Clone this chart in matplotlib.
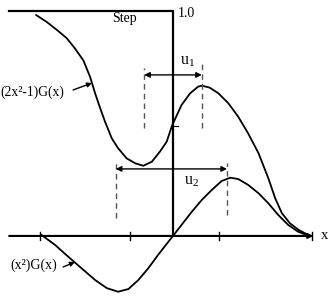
import matplotlib.pyplot as plt

# values (x in units of the tick spacing, y relative to the step height 1.0)
upper_x = [-3.04, -2.81, -2.58, -2.36, -2.18, -1.99, -1.84, -1.73, -1.62, -1.51, -1.36, -1.22,
           -1.03, -0.84, -0.66, -0.47, -0.29, -0.14, -0.02, 0.19, 0.38, 0.56, 0.65, 0.82,
           1.01, 1.23, 1.45, 1.67, 1.90, 2.12, 2.27, 2.42, 2.60, 2.79, 3.01]
upper_y = [0.982, 0.952, 0.916, 0.879, 0.834, 0.780, 0.706, 0.634, 0.569, 0.508, 0.434, 0.390,
           0.345, 0.323, 0.312, 0.330, 0.375, 0.419, 0.491, 0.582, 0.634, 0.664, 0.668, 0.659,
           0.634, 0.590, 0.530, 0.456, 0.368, 0.256, 0.168, 0.101, 0.056, 0.027, 0.004]

lower_x = [-2.92, -2.62, -2.33, -2.03, -1.73, -1.47, -1.22, -0.99, -0.77, -0.55, -0.33, -0.10,
           0.0, 0.19, 0.42, 0.64, 0.86, 1.08, 1.27, 1.45, 1.67, 1.90, 2.12, 2.34, 2.56, 2.78, 3.01]
lower_y = [0.004, -0.040, -0.092, -0.144, -0.196, -0.232, -0.248, -0.236, -0.196, -0.144, -0.084, -0.025,
           0.0, 0.049, 0.108, 0.160, 0.204, 0.244, 0.259, 0.253, 0.227, 0.190, 0.145, 0.093, 0.049, 0.019, 0.001]

step_x = [-3.64, 0.0, 0.0]
step_y = [1.0, 1.0, 0.0]

tick_x = [-2.96, -0.96, 1.02, 3.09]
u1_x = [-0.64, 0.64]
u2_x = [-1.27, 1.20]

plt.rcParams['font.family'] = ['Liberation Serif', 'DejaVu Serif']
plt.rcParams['mathtext.fontset'] = 'custom'
plt.rcParams['mathtext.rm'] = 'Liberation Serif'
plt.rcParams['mathtext.it'] = 'Liberation Serif'

fig = plt.figure(figsize=(3.35, 2.96), dpi=100)
ax = fig.add_axes([0, 0, 1, 1])
ax.set_xlim(-3.844, 3.6)
ax.set_ylim(-0.267, 1.049)
ax.axis('off')

# x axis with arrow
ax.annotate('', xy=(3.12, 0), xytext=(-3.64, 0),
            arrowprops=dict(arrowstyle='-|>', color='black', lw=1.5, mutation_scale=7,
                            shrinkA=0, shrinkB=0))
for t in tick_x:
    ax.plot([t, t], [-0.018, 0.018], color='black', lw=1)
ax.text(3.28, 0, 'x', fontsize=10.5, ha='left', va='center')

# step
ax.plot(step_x, step_y, color='black', lw=1.6, solid_joinstyle='miter')
ax.plot([0, 0.11], [0.489, 0.489], color='black', lw=0.8)
ax.text(0.11, 0.99, '1.0', fontsize=10, ha='left', va='center')
ax.text(-1.07, 0.965, 'Step', fontsize=10, ha='center', va='center')

# curves
ax.plot(upper_x, upper_y, color='black', lw=1.3, solid_joinstyle='round')
ax.plot(lower_x, lower_y, color='black', lw=1.3, solid_joinstyle='round')

# u1 markers
ax.plot([u1_x[0]] * 2, [0.48, 0.747], color='#555555', lw=1, ls=(0, (4, 3)))
ax.plot([u1_x[1]] * 2, [0.48, 0.769], color='#555555', lw=1, ls=(0, (4, 3)))
ax.annotate('', xy=(u1_x[1], 0.716), xytext=(u1_x[0], 0.716),
            arrowprops=dict(arrowstyle='<|-|>', color='black', lw=1, mutation_scale=8,
                            shrinkA=0, shrinkB=0))
ax.text(0.33, 0.78, 'u$_1$', fontsize=11.5, ha='center', va='center')

# u2 markers
ax.plot([u2_x[0]] * 2, [0.08, 0.324], color='#555555', lw=1, ls=(0, (4, 3)))
ax.plot([u2_x[1]] * 2, [0.093, 0.324], color='#555555', lw=1, ls=(0, (4, 3)))
ax.annotate('', xy=(u2_x[1], 0.298), xytext=(u2_x[0], 0.298),
            arrowprops=dict(arrowstyle='<|-|>', color='black', lw=1, mutation_scale=8,
                            shrinkA=0, shrinkB=0))
ax.text(0.42, 0.245, 'u$_2$', fontsize=11.5, ha='center', va='center')

# curve labels
ax.text(-3.84, 0.64, '(2x²-1)G(x)', fontsize=9.8, ha='left', va='center')
ax.annotate('', xy=(-1.8, 0.68), xytext=(-2.22, 0.649),
            arrowprops=dict(arrowstyle='-|>', color='black', lw=1, mutation_scale=7,
                            shrinkA=0, shrinkB=0))
ax.text(-3.62, -0.129, '(x²)G(x)', fontsize=10, ha='left', va='center')
ax.annotate('', xy=(-2.18, -0.116), xytext=(-2.44, -0.138),
            arrowprops=dict(arrowstyle='-|>', color='black', lw=1, mutation_scale=7,
                            shrinkA=0, shrinkB=0))

fig.savefig('out.png', dpi=100)
